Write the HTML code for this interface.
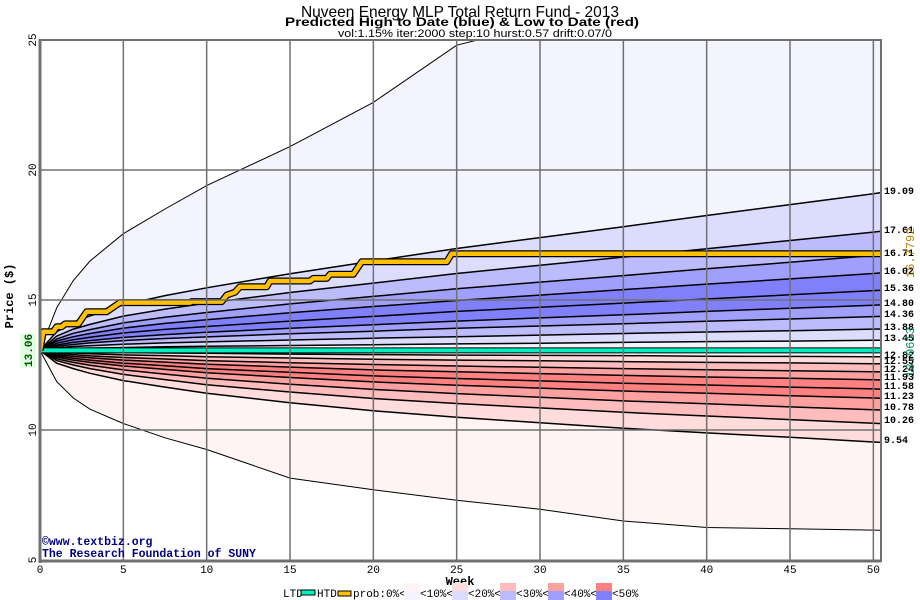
<!DOCTYPE html>
<html><head><meta charset="utf-8"><style>
html,body{margin:0;padding:0;background:#fff;}
svg{display:block;}
text{font-family:"Liberation Mono",monospace;}
</style></head><body>
<svg id="chart" width="920" height="600" viewBox="0 0 920 600" xmlns="http://www.w3.org/2000/svg">
<text x="460" y="17" text-anchor="middle" textLength="318" lengthAdjust="spacingAndGlyphs" style="font-family:'Liberation Sans Narrow','Liberation Sans',sans-serif;font-size:16px;">Nuveen Energy MLP Total Return Fund - 2013</text>
<text x="462" y="26" text-anchor="middle" textLength="354" lengthAdjust="spacingAndGlyphs" style="font-family:'Liberation Sans Narrow','Liberation Sans',sans-serif;font-size:12px;font-weight:bold;">Predicted High to Date (blue) &amp;  Low to Date (red)</text>
<text x="475" y="37" text-anchor="middle" textLength="274" lengthAdjust="spacingAndGlyphs" style="font-family:'Liberation Sans Narrow','Liberation Sans',sans-serif;font-size:11px;">vol:1.15% iter:2000 step:10 hurst:0.57 drift:0.07/0</text>
<g id="plot"></g>
</svg>
<script>
const weeks = [0,1,2,3,5,7.5,10,15,20,25,30,35,40,45,50];
const maxCurve = [13.06,14.7,15.75,16.5,17.55,18.5,19.4,20.9,22.6,24.8,25.6,26,26.3,26.5,26.7];
const u1 = [13.06,13.78,14.15,14.39,14.81,15.17,15.47,16.01,16.50,16.98,17.40,17.82,18.25,18.67,19.09];
const u2 = [13.06,13.61,13.88,14.06,14.38,14.65,14.88,15.29,15.65,16.02,16.34,16.65,16.97,17.29,17.61];
const u3 = [13.06,13.50,13.72,13.86,14.12,14.34,14.52,14.85,15.14,15.43,15.69,15.94,16.20,16.45,16.71];
const u4 = [13.06,13.42,13.59,13.71,13.92,14.10,14.24,14.51,14.75,14.98,15.19,15.40,15.61,15.81,16.02];
const u5 = [13.06,13.34,13.47,13.57,13.73,13.87,13.98,14.19,14.37,14.56,14.72,14.88,15.04,15.20,15.36];
const u6 = [13.06,13.27,13.37,13.44,13.56,13.67,13.76,13.91,14.05,14.19,14.31,14.43,14.56,14.68,14.80];
const u7 = [13.06,13.22,13.29,13.35,13.44,13.52,13.58,13.70,13.80,13.91,14.00,14.09,14.18,14.27,14.36];
const u8 = [13.06,13.16,13.21,13.24,13.30,13.35,13.39,13.46,13.53,13.59,13.65,13.71,13.77,13.82,13.88];
const u9 = [13.06,13.11,13.13,13.15,13.17,13.20,13.22,13.25,13.28,13.31,13.34,13.37,13.40,13.42,13.45];
const base = [13.06,13.06,13.06,13.06,13.06,13.06,13.06,13.06,13.06,13.06,13.06,13.06,13.06,13.06,13.06];
const l1 = [13.06,13.03,13.01,13.00,12.98,12.96,12.95,12.92,12.90,12.88,12.87,12.86,12.84,12.83,12.82];
const l2 = [13.06,12.99,12.96,12.93,12.89,12.86,12.82,12.77,12.72,12.69,12.66,12.63,12.60,12.58,12.55];
const l3 = [13.06,12.95,12.90,12.85,12.79,12.73,12.67,12.59,12.52,12.46,12.41,12.36,12.32,12.28,12.24];
const l4 = [13.06,12.90,12.83,12.78,12.69,12.61,12.53,12.42,12.31,12.24,12.17,12.10,12.04,11.99,11.93];
const l5 = [13.06,12.85,12.76,12.69,12.57,12.47,12.36,12.22,12.08,11.98,11.89,11.80,11.73,11.65,11.58];
const l6 = [13.06,12.80,12.69,12.60,12.46,12.33,12.20,12.02,11.85,11.72,11.61,11.50,11.41,11.32,11.23];
const l7 = [13.06,12.74,12.60,12.49,12.31,12.15,11.99,11.76,11.56,11.40,11.26,11.12,11.01,10.89,10.78];
const l8 = [13.06,12.67,12.50,12.36,12.14,11.94,11.74,11.46,11.21,11.02,10.85,10.68,10.54,10.40,10.26];
const l9 = [13.06,12.57,12.36,12.18,11.90,11.65,11.41,11.05,10.74,10.49,10.28,10.07,9.89,9.72,9.54];
const minCurve = [13.06,11.86,11.23,10.8,10.25,9.7,9.25,8.15,7.7,7.3,6.95,6.5,6.25,6.2,6.15];
const endLabels = ["19.09","17.61","16.71","16.02","15.36","14.80","14.36","13.88","13.45","12.82","12.55","12.24","11.93","11.58","11.23","10.78","10.26","9.54"];
const htdWeeks = [0,0.2,0.8,1.0,1.3,1.5,2.3,2.6,2.8,4.0,4.8,9.0,9.1,10.9,11.2,11.7,12.0,13.6,13.8,16.2,16.4,17.2,17.4,18.8,19.3,24.4,24.7,50.5];
const htdValues = [13.06,13.78,13.78,13.97,13.97,14.08,14.08,14.36,14.55,14.55,14.9,14.9,14.94,14.94,15.19,15.3,15.51,15.51,15.73,15.73,15.83,15.83,15.99,15.99,16.47,16.47,16.78,16.78];
const ltdValue = 13.0613;
const htdValue = 16.7792;
const startPrice = "13.06";
const xTicks = [0,5,10,15,20,25,30,35,40,45,50];
const yTicks = [5,10,15,20,25];

const NS = "http://www.w3.org/2000/svg";
const X0 = 40, XW = 16.667, XR = 881, YT = 40, YB = 561;
const xs = w => X0 + w * XW;
const ys = p => 560 - (p - 5) * 26;
const plot = document.getElementById('plot');
function mk(tag, attrs, parent) {
  const e = document.createElementNS(NS, tag);
  for (const k in attrs) e.setAttribute(k, attrs[k]);
  (parent || plot).appendChild(e);
  return e;
}
function pts(vals) {
  const p = weeks.map((w, i) => [xs(w), ys(vals[i])]);
  p.push([XR, ys(vals[vals.length - 1] + (vals[vals.length - 1] - vals[vals.length - 2]) * 0.1)]);
  return p;
}
const defs = mk('defs', {});
const cp = mk('clipPath', {id: 'clip'}, defs);
mk('rect', {x: X0, y: YT, width: XR - X0, height: YB - YT}, cp);
const g = mk('g', {'clip-path': 'url(#clip)'});

const bands = [
  [maxCurve, u1, '#f4f4ff', 'band-upper-10'], [u1, u2, '#dcdcfc', 'band-upper-20'], [u2, u3, '#bcbcfc', 'band-upper-30'],
  [u3, u4, '#a0a0fc', 'band-upper-40'], [u4, u5, '#8080fc', 'band-upper-50a'], [u5, u6, '#8080fc', 'band-upper-50b'],
  [u6, u7, '#a0a0fc', 'band-upper-40b'], [u7, u8, '#bcbcfc', 'band-upper-30b'], [u8, u9, '#dcdcfc', 'band-upper-20b'],
  [u9, base, '#f4f4ff', 'band-upper-10b'],
  [base, l1, '#fff4f4', 'band-lower-10b'], [l1, l2, '#ffdcdc', 'band-lower-20b'], [l2, l3, '#ffbcbc', 'band-lower-30b'],
  [l3, l4, '#ffa0a0', 'band-lower-40b'], [l4, l5, '#ff8080', 'band-lower-50b'], [l5, l6, '#ff8080', 'band-lower-50a'],
  [l6, l7, '#ffa0a0', 'band-lower-40'], [l7, l8, '#ffbcbc', 'band-lower-30'], [l8, l9, '#ffdcdc', 'band-lower-20'],
  [l9, minCurve, '#fff4f4', 'band-lower-10']
];
bands.forEach(b => {
  const a = pts(b[0]), c = pts(b[1]).reverse();
  const d = 'M' + a.concat(c).map(p => p[0].toFixed(1) + ',' + p[1].toFixed(1)).join('L') + 'Z';
  const el = mk('path', {d: d, fill: b[2], stroke: 'none'}, g);
  
  
});
// grid
xTicks.forEach(w => {
  if (w === 0) return;
  const el = mk('line', {x1: xs(w), x2: xs(w), y1: YT, y2: YB, stroke: '#707070', 'stroke-width': 1.5});
  
  
});
yTicks.forEach(p => {
  if (p === 5 || p === 25) return;
  const el = mk('line', {x1: X0, x2: XR, y1: ys(p), y2: ys(p), stroke: '#707070', 'stroke-width': 1.5});
  
  
});
// curves
const curves = [maxCurve, u1, u2, u3, u4, u5, u6, u7, u8, u9, l1, l2, l3, l4, l5, l6, l7, l8, l9, minCurve];
curves.forEach((c, i) => {
  const el = mk('polyline', {points: pts(c).map(p => p[0].toFixed(1) + ',' + p[1].toFixed(1)).join(' '), fill: 'none', stroke: '#000', 'stroke-width': (i === 0 || i === curves.length - 1) ? 1 : 1.5}, g);
  
  
});
// LTD line
let el = mk('line', {x1: X0, x2: XR, y1: ys(ltdValue), y2: ys(ltdValue), stroke: '#000', 'stroke-width': 6}, g);


el = mk('line', {x1: X0, x2: XR, y1: ys(ltdValue), y2: ys(ltdValue), stroke: '#00f0c0', 'stroke-width': 4}, g);


// HTD line
const hp = htdWeeks.map((w, i) => xs(w).toFixed(1) + ',' + ys(htdValues[i]).toFixed(1)).join(' ');
el = mk('polyline', {points: hp, fill: 'none', stroke: '#000', 'stroke-width': 7, 'stroke-linejoin': 'round'}, g);


el = mk('polyline', {points: hp, fill: 'none', stroke: '#ffc000', 'stroke-width': 4.5, 'stroke-linejoin': 'round'}, g);


// frame
el = mk('rect', {x: X0, y: YT, width: XR - X0, height: YB - YT, fill: 'none', stroke: '#707070', 'stroke-width': 2});


el = mk('line', {x1: X0, x2: X0, y1: YT - 1, y2: YB + 2, stroke: '#707070', 'stroke-width': 3});


el = mk('line', {x1: X0, x2: XR, y1: YB, y2: YB, stroke: '#707070', 'stroke-width': 3});


// x tick labels
xTicks.forEach(w => {
  const t = mk('text', {x: xs(w), y: 573, 'text-anchor': 'middle', 'font-size': 11});
  t.textContent = w;
  
  
});
// y tick labels
yTicks.forEach(p => {
  const t = mk('text', {x: 0, y: 0, 'text-anchor': 'middle', 'font-size': 11, transform: 'translate(36,' + ys(p) + ') rotate(-90)'});
  t.textContent = p;
  
  
});
// end labels
const endVals = [u1, u2, u3, u4, u5, u6, u7, u8, u9, l1, l2, l3, l4, l5, l6, l7, l8, l9];
const labelY = [191, 230, 253, 271, 288, 303, 314, 327, 338, 355, 361, 369, 377, 386, 396, 407, 420, 440];
endLabels.forEach((s, i) => {
  const t = mk('text', {x: 884, y: labelY[i] + 3, 'font-size': 10, 'font-weight': 'bold'});
  t.textContent = s;
  
  
});
// rotated final values
el = mk('text', {x: 0, y: 0, 'text-anchor': 'middle', 'font-size': 12, fill: '#b08000', transform: 'translate(914,' + (ys(htdValue) - 1) + ') rotate(-90)'});
el.textContent = htdValue.toFixed(4);


el = mk('text', {x: 0, y: 0, 'text-anchor': 'middle', 'font-size': 12, fill: '#009060', transform: 'translate(914,' + (ys(ltdValue) + 2) + ') rotate(-90)'});
el.textContent = ltdValue.toFixed(4);


// start price
el = mk('rect', {x: 20, y: ys(13.06) - 17, width: 15, height: 34, fill: '#e0ffe0'});


el = mk('text', {x: 0, y: 0, 'text-anchor': 'middle', 'font-size': 11, 'font-weight': 'bold', fill: '#005000', transform: 'translate(32,' + ys(13.06) + ') rotate(-90)'});
el.textContent = startPrice;


</script>
<svg style="position:absolute;left:0;top:0" width="920" height="600">
<text x="0" y="0" text-anchor="middle" font-size="12" font-weight="bold" transform="translate(13,296) rotate(-90)">Price ($)</text>
<text x="460" y="585" text-anchor="middle" font-size="12" font-weight="bold">Week</text>
<text x="42" y="545" font-size="11.5" font-weight="bold" fill="#000080">©www.textbiz.org</text>
<text x="42" y="557" font-size="11.5" font-weight="bold" fill="#000080">The Research Foundation of SUNY</text>
<g font-size="11">
<text x="283" y="597">LTD</text>
<rect x="301" y="590" width="14" height="5" fill="#00f0c0" stroke="#000" stroke-width="1"/>
<text x="317" y="597">HTD</text>
<rect x="338" y="591" width="13" height="5" fill="#ffc000" stroke="#000" stroke-width="1"/>
<text x="353" y="597">prob:0%&lt;</text>
<rect x="404" y="583" width="16" height="8" fill="#fff4f4"/><rect x="404" y="591" width="16" height="9" fill="#f4f4ff"/>
<text x="420" y="597">&lt;10%&lt;</text>
<rect x="452" y="583" width="16" height="8" fill="#ffdcdc"/><rect x="452" y="591" width="16" height="9" fill="#dcdcfc"/>
<text x="468" y="597">&lt;20%&lt;</text>
<rect x="500" y="583" width="16" height="8" fill="#ffbcbc"/><rect x="500" y="591" width="16" height="9" fill="#bcbcfc"/>
<text x="516" y="597">&lt;30%&lt;</text>
<rect x="548" y="583" width="16" height="8" fill="#ffa0a0"/><rect x="548" y="591" width="16" height="9" fill="#a0a0fc"/>
<text x="564" y="597">&lt;40%&lt;</text>
<rect x="596" y="583" width="16" height="8" fill="#ff8080"/><rect x="596" y="591" width="16" height="9" fill="#8080fc"/>
<text x="612" y="597">&lt;50%</text>
</g>
</svg>
</body></html>
